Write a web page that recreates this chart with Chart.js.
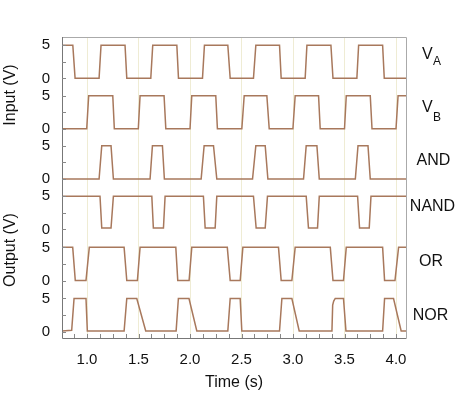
<!DOCTYPE html>
<html>
<head>
<meta charset="utf-8">
<script src="https://cdn.jsdelivr.net/npm/chart.js@4"></script>
<style>
  body { margin: 0; background: #fff; }
  canvas { display: block; }
</style>
</head>
<body>
<canvas id="myChart" width="463" height="395"></canvas>
<script>
// traces as [time (s), volts]
const VA = [[0.757,5],[0.862,5],[0.884,0],[1.117,0],[1.136,5],[1.369,5],[1.386,0],[1.619,0],[1.638,5],[1.872,5],[1.888,0],[2.121,0],[2.14,5],[2.367,5],[2.39,0],[2.616,0],[2.639,5],[2.869,5],[2.885,0],[3.118,0],[3.135,5],[3.368,5],[3.388,0],[3.62,0],[3.637,5],[3.87,5],[3.886,0],[4.097,0]];
const VB = [[0.757,0],[0.997,0],[1.016,5],[1.25,5],[1.265,0],[1.498,0],[1.515,5],[1.748,5],[1.765,0],[2.0,0],[2.017,5],[2.25,5],[2.266,0],[2.503,0],[2.526,5],[2.746,5],[2.769,0],[2.999,0],[3.021,5],[3.248,5],[3.264,0],[3.5,0],[3.517,5],[3.75,5],[3.767,0],[4.0,0],[4.02,5],[4.097,5]];
const AND = [[0.757,0],[1.117,0],[1.143,5],[1.233,5],[1.256,0],[1.612,0],[1.635,5],[1.732,5],[1.751,0],[2.108,0],[2.137,5],[2.228,5],[2.26,0],[2.607,0],[2.639,5],[2.73,5],[2.756,0],[3.102,0],[3.128,5],[3.232,5],[3.255,0],[3.605,0],[3.631,5],[3.728,5],[3.75,0],[4.097,0]];
const NAND = [[0.757,5],[1.126,5],[1.143,0.2],[1.233,0.2],[1.256,5],[1.629,5],[1.644,0.2],[1.742,0.2],[1.758,5],[2.13,5],[2.147,0.2],[2.244,0.2],[2.26,5],[2.616,5],[2.642,0.2],[2.73,0.2],[2.752,5],[3.128,5],[3.15,0.2],[3.238,0.2],[3.255,5],[3.627,5],[3.646,0.2],[3.74,0.2],[3.757,5],[4.097,5]];
const OR = [[0.757,5],[0.861,5],[0.886,0],[0.99,0],[1.022,5],[1.36,5],[1.386,0],[1.489,0],[1.515,5],[1.862,5],[1.881,0],[1.991,0],[2.017,5],[2.362,5],[2.39,0],[2.487,0],[2.513,5],[2.859,5],[2.885,0],[2.989,0],[3.021,5],[3.362,5],[3.388,0],[3.49,0],[3.517,5],[3.87,5],[3.889,0],[3.99,0],[4.025,5],[4.097,5]];
const NOR = [[0.757,0.1],[0.851,0.2],[0.874,5],[0.99,5],[1.003,0.1],[1.36,0.1],[1.386,5],[1.483,5],[1.57,0.1],[1.865,0.1],[1.887,5],[1.99,5],[2.066,0.1],[2.367,0.1],[2.39,5],[2.487,5],[2.503,0.1],[2.869,0.1],[2.892,5],[2.989,5],[3.06,0.1],[3.378,0.1],[3.385,4.0],[3.395,4.6],[3.41,5],[3.49,5],[3.514,0.1],[3.87,0.1],[3.889,5],[3.976,5],[4.05,0.1],[4.097,0.1]];

const traces = [VA, VB, AND, NAND, OR, NOR];
// each panel is shifted up the shared y axis
const panelBase = [39.1, 31.5, 23.95, 16.35, 8.65, 0.95];
const panelTicks = [0, 2.5, 5];
const xMajor = [1.0, 1.5, 2.0, 2.5, 3.0, 3.5, 4.0];
const xMinorStep = 0.125;
const xMin = 0.757, xMax = 4.097;
const yMin = 0, yMax = 45.33;

const lineColor = '#a8785c';

const datasets = traces.map((tr, i) => ({
    data: tr.map(p => ({ x: p[0], y: p[1] + panelBase[i] })),
    borderColor: lineColor,
    borderWidth: 1.5,
    pointRadius: 0,
    tension: 0,
}));

const yTickVals = [];
panelBase.forEach(b => panelTicks.forEach(t => yTickVals.push(b + t)));

function yLabel(v) {
    for (const b of panelBase) {
        if (Math.abs(v - b) < 0.01) return '0';
        if (Math.abs(v - b - 5) < 0.01) return '5';
    }
    return '';
}

const xTickVals = [];
for (let t = 0.875; t <= xMax; t += xMinorStep) xTickVals.push(Math.round(t * 1000) / 1000);

function isMajor(v) {
    return xMajor.some(m => Math.abs(m - v) < 1e-6);
}

// frame, inward ticks, side labels
const decor = {
    id: 'decor',
    afterDraw(chart) {
        const c = chart.ctx, a = chart.chartArea;
        const xs = chart.scales.x, ys = chart.scales.y;
        c.save();
        c.lineWidth = 1;
        c.strokeStyle = '#aaaaaa';
        c.beginPath();
        c.moveTo(a.left, a.top + 0.5); c.lineTo(a.right + 0.5, a.top + 0.5);
        c.lineTo(a.right + 0.5, a.bottom);
        c.stroke();
        c.strokeStyle = '#777777';
        c.beginPath();
        c.moveTo(a.left + 0.5, a.top); c.lineTo(a.left + 0.5, a.bottom + 0.5);
        c.lineTo(a.right + 0.5, a.bottom + 0.5);
        c.stroke();
        c.strokeStyle = '#888888';
        c.beginPath();
        xTickVals.forEach(v => {
            const px = Math.round(xs.getPixelForValue(v)) + 0.5;
            c.moveTo(px, a.bottom); c.lineTo(px, a.bottom - 4);
        });
        yTickVals.forEach(v => {
            const py = Math.round(ys.getPixelForValue(v)) + 0.5;
            c.moveTo(a.left, py); c.lineTo(a.left + 4, py);
        });
        c.stroke();

        c.fillStyle = '#111';
        c.textAlign = 'center';
        c.textBaseline = 'middle';
        c.font = '16px "Liberation Sans", Arial, sans-serif';
        c.save();
        c.translate(11, 95); c.rotate(-Math.PI / 2);
        c.fillText('Input (V)', 0, 0);
        c.restore();
        c.save();
        c.translate(11, 250); c.rotate(-Math.PI / 2);
        c.fillText('Output (V)', 0, 0);
        c.restore();

        c.textAlign = 'left';
        c.font = '16px "Liberation Sans", Arial, sans-serif';
        c.fillText('V', 422, 55);
        c.fillText('V', 422, 108);
        c.font = '12px "Liberation Sans", Arial, sans-serif';
        c.fillText('A', 433, 62);
        c.fillText('B', 433, 118);
        c.textAlign = 'center';
        c.font = '16px "Liberation Sans", Arial, sans-serif';
        c.fillText('AND', 433.5, 161);
        c.fillText('NAND', 432.5, 206.5);
        c.fillText('OR', 431, 262);
        c.fillText('NOR', 430.5, 316);
        c.restore();
    }
};

new Chart(document.getElementById('myChart'), {
    type: 'line',
    data: { datasets: datasets },
    plugins: [decor],
    options: {
        responsive: false,
        animation: false,
        layout: { padding: { left: 0, right: 57, top: 37, bottom: 0 } },
        plugins: { legend: { display: false }, tooltip: { enabled: false } },
        scales: {
            x: {
                type: 'linear',
                min: xMin,
                max: xMax,
                afterBuildTicks: s => { s.ticks = xTickVals.map(v => ({ value: v })); },
                afterFit: s => { s.height = 57; },
                border: { display: false },
                grid: {
                    drawTicks: false,
                    color: ctx => isMajor(ctx.tick.value) ? '#efecd4' : 'rgba(0,0,0,0)',
                },
                ticks: {
                    autoSkip: false,
                    maxRotation: 0,
                    padding: 13,
                    color: '#111',
                    font: { family: '"Liberation Sans", Arial, sans-serif', size: 15 },
                    callback: v => isMajor(v) ? v.toFixed(1) : '',
                },
                title: {
                    display: true,
                    text: 'Time (s)',
                    color: '#111',
                    padding: { top: 0, bottom: 3 },
                    font: { family: '"Liberation Sans", Arial, sans-serif', size: 16 },
                },
            },
            y: {
                min: yMin,
                max: yMax,
                afterBuildTicks: s => { s.ticks = yTickVals.map(v => ({ value: v })); },
                afterFit: s => { s.width = 62; },
                border: { display: false },
                grid: { display: false, drawTicks: false },
                ticks: {
                    autoSkip: false,
                    padding: 12,
                    color: '#111',
                    font: { family: '"Liberation Sans", Arial, sans-serif', size: 15 },
                    callback: v => yLabel(v),
                },
            },
        },
    },
});
</script>
</body>
</html>
